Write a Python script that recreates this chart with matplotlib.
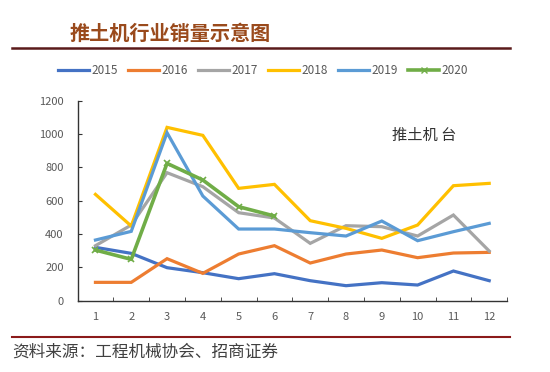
import matplotlib.pyplot as plt
from matplotlib.lines import Line2D

plt.rcParams['font.family'] = ['Noto Sans CJK SC', 'DejaVu Sans']

months = [1, 2, 3, 4, 5, 6, 7, 8, 9, 10, 11, 12]
sales_2015 = [320, 284, 198, 168, 132, 162, 120, 90, 108, 94, 178, 120]
sales_2016 = [110, 110, 252, 164, 280, 330, 226, 280, 304, 258, 286, 290]
sales_2017 = [330, 454, 768, 684, 528, 496, 344, 450, 444, 388, 514, 298]
sales_2018 = [638, 448, 1040, 992, 674, 698, 480, 434, 374, 454, 690, 704]
sales_2019 = [364, 416, 1008, 628, 430, 430, 408, 388, 478, 360, 414, 464]
months_2020 = [1, 2, 3, 4, 5, 6]
sales_2020 = [304, 248, 824, 724, 564, 508]

years = ['2015', '2016', '2017', '2018', '2019', '2020']
colors = ['#4472C4', '#ED7D31', '#A5A5A5', '#FFC000', '#5B9BD5', '#70AD47']

fig = plt.figure(figsize=(5.5, 3.72), dpi=100)
ax = fig.add_axes([0.141, 0.1917, 0.781, 0.5376])

series = [sales_2015, sales_2016, sales_2017, sales_2018, sales_2019]
for vals, col in zip(series, colors[:5]):
    ax.plot(months, vals, color=col, lw=2.3, solid_joinstyle='miter')
ax.plot(months_2020, sales_2020, color=colors[5], lw=2.6, marker='x',
        markersize=5, markeredgewidth=1.2)

ax.set_xlim(0.5, 12.5)
ax.set_ylim(0, 1200)
ax.set_yticks(range(0, 1201, 200))
ax.set_xticks(months)
ax.set_xticks([m + 0.5 for m in range(0, 13)], minor=True)
ax.tick_params(axis='x', which='major', length=0, pad=8, labelsize=8, labelcolor='#595959')
ax.tick_params(axis='x', which='minor', direction='in', length=3, color='#333333')
ax.tick_params(axis='y', direction='in', length=3, labelsize=8, labelcolor='#595959',
               color='#333333', pad=10)
for s in ['top', 'right']:
    ax.spines[s].set_visible(False)
for s in ['left', 'bottom']:
    ax.spines[s].set_color('#333333')
    ax.spines[s].set_linewidth(1.0)

ax.text(424 / 550, 1 - 135 / 372, '推土机 台', transform=fig.transFigure,
        ha='center', va='center', fontsize=11, color='#333333')

# legend
handles = [Line2D([], [], color=c, lw=2.3) for c in colors[:5]]
handles.append(Line2D([], [], color=colors[5], lw=2.6, marker='x', markersize=5))
fig.legend(handles, years, loc='center', bbox_to_anchor=(263 / 550, 1 - 71 / 372),
           ncol=6, frameon=False, fontsize=8.5, handlelength=2.6, handletextpad=0.2,
           columnspacing=0.9, labelcolor='#595959')

# header and footer
fig.text(70 / 550, 1 - 33 / 372, '推土机行业销量示意图', fontsize=14.5, fontweight='bold',
         color='#9A4A1C', ha='left', va='center')
fig.add_artist(Line2D([12 / 550, 510 / 550], [1 - 48 / 372] * 2, color='#5A1A1A', lw=1.8))
fig.add_artist(Line2D([12 / 550, 510 / 550], [1 - 337 / 372] * 2, color='#8B1A1A', lw=1.5))
fig.text(12 / 550, 1 - 352 / 372, '资料来源：工程机械协会、招商证券', fontsize=12,
         color='#404040', ha='left', va='center')

fig.savefig('out.png', dpi=100)
